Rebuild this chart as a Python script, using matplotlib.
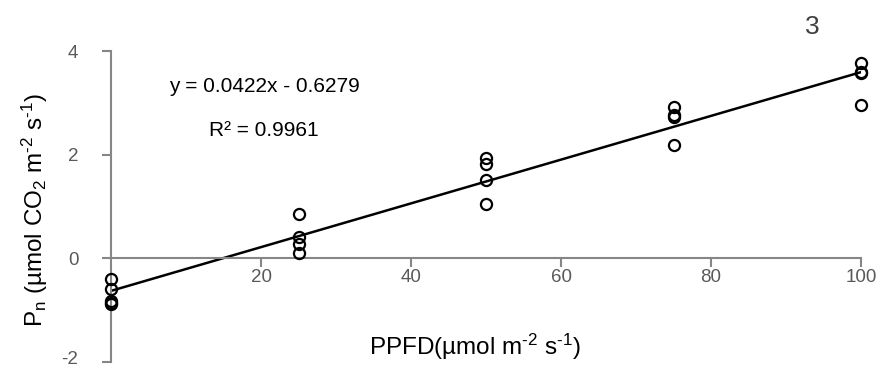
import numpy as np
import matplotlib
matplotlib.use('Agg')
import matplotlib.pyplot as plt
from matplotlib.transforms import ScaledTranslation

plt.rcParams['font.family'] = ['Liberation Sans', 'DejaVu Sans']
plt.rcParams['mathtext.fontset'] = 'custom'
plt.rcParams['mathtext.rm'] = 'Liberation Sans'
plt.rcParams['mathtext.it'] = 'Liberation Sans'
plt.rcParams['mathtext.default'] = 'regular'
plt.rcParams['axes.unicode_minus'] = False

# PPFD levels and measured net photosynthesis
ppfd = [0, 0, 0, 0, 0,
        25, 25, 25, 25,
        50, 50, 50, 50,
        75, 75, 75, 75,
        100, 100, 100, 100]
pn = [-0.40, -0.60, -0.82, -0.86, -0.88,
      0.85, 0.42, 0.28, 0.10,
      1.93, 1.82, 1.51, 1.05,
      2.92, 2.77, 2.73, 2.18,
      3.76, 3.60, 3.58, 2.96]

slope = 0.0422
intercept = -0.6279
r2 = 0.9961
xticks = [20, 40, 60, 80, 100]
yticks = [-2, 0, 2, 4]

axis_grey = '#868686'
text_grey = '#595959'

fig = plt.figure(figsize=(8.81, 3.68), dpi=100)
ax = fig.add_axes([111 / 881, 1 - 362 / 368, 750 / 881, 311 / 368])

xfit = np.array([0, 100])
ax.plot(xfit, slope * xfit + intercept, color='black', lw=1.8, zorder=2)
ax.plot(ppfd, pn, 'o', mfc='none', mec='black', mew=1.6, ms=8, zorder=3, clip_on=False)

ax.set_xlim(0, 100)
ax.set_ylim(-2, 4)
ax.spines['top'].set_visible(False)
ax.spines['right'].set_visible(False)
ax.spines['left'].set_position(('data', 0))
ax.spines['bottom'].set_position(('data', 0))
for s in ['left', 'bottom']:
    ax.spines[s].set_color(axis_grey)
    ax.spines[s].set_linewidth(1.5)

ax.set_xticks(xticks)
ax.set_yticks(yticks)
ax.tick_params(axis='x', direction='out', length=6.5, width=1.5, color=axis_grey,
               labelsize=13.5, labelcolor=text_grey, pad=1)
ax.tick_params(axis='y', direction='out', length=6.5, width=1.5, color=axis_grey,
               labelsize=13.5, labelcolor=text_grey, pad=17)
# nudge the bottom label up so it stays inside the figure
low = ax.yaxis.get_major_ticks()[0].label1
low.set_transform(low.get_transform() + ScaledTranslation(0, 3 / 72, fig.dpi_scale_trans))

fig.text(475 / 881, 1 - 347 / 368, 'PPFD(µmol m$^{\\text{-2}}$ s$^{\\text{-1}}$)', fontsize=17.5,
         ha='center', va='center', color='black')
fig.text(35 / 881, 1 - 210 / 368, 'P$_{n}$ (µmol CO$_{2}$ m$^{\\text{-2}}$ s$^{\\text{-1}}$)',
         fontsize=17.5, ha='center', va='center', rotation=90, color='black')

fig.text(264 / 881, 1 - 87 / 368, 'y = %.4fx - %.4f' % (slope, -intercept), fontsize=15,
         ha='center', va='center', color='black')
fig.text(264 / 881, 1 - 130 / 368, 'R² = %.4f' % r2, fontsize=15,
         ha='center', va='center', color='black')
fig.text(812 / 881, 1 - 27 / 368, '3', fontsize=19, ha='center', va='center', color='#404040')

fig.savefig('out.png', dpi=100)
